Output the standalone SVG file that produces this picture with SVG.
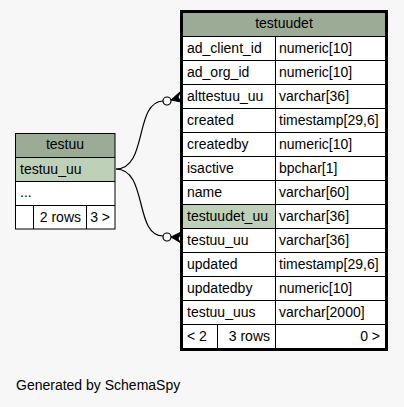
<svg xmlns="http://www.w3.org/2000/svg" width="404" height="407" viewBox="0 0 404 407">
<style>
text{font-family:"Liberation Sans",Arial,sans-serif;font-size:14px;fill:#000}
.hdr{fill:#9bab96}
.key{fill:#bed1b8}
.cell{fill:#fff}
.ln{stroke:#000;stroke-width:1;fill:none}
.c{text-anchor:middle}
.e{text-anchor:end}
.edge{stroke:#000;stroke-width:1.2;fill:none}
</style>
<rect width="404" height="407" fill="#f7f7f7"/>
<g id="connectors">
<path class="edge" d="M116,169 C148,169 134,102 163,101"/>
<circle class="edge" cx="167" cy="101" r="4" fill="#fff"/>
<polygon points="171,100 181,91 178,97 181,102" fill="#000" stroke="#000" stroke-width="1"/>
<path class="edge" d="M116,169 C148,169 134,236 163,236"/>
<circle class="edge" cx="167" cy="237" r="4" fill="#fff"/>
<polygon points="171,237 181,232 178,239 181,243" fill="#000" stroke="#000" stroke-width="1"/>
</g>
<g id="testuu">
<rect class="hdr" x="15" y="133" width="100" height="24"/>
<rect class="key" x="15" y="157" width="100" height="24"/>
<rect class="cell" x="15" y="181" width="100" height="48"/>
<rect class="ln" x="15.5" y="133.5" width="99.5" height="95.5"/>
<path class="ln" d="M15,157.5H115M15,181.5H115M15,205.5H115M33.5,205V229M86.5,205V229"/>
<text class="c" x="65" y="149">testuu</text>
<text x="20" y="174">testuu_uu</text>
<text x="20" y="197">...</text>
<text class="e" x="81" y="222">2 rows</text>
<text class="e" x="110" y="222">3 &gt;</text>
</g>
<g id="testuudet">
<rect class="hdr" x="183" y="13" width="202" height="23"/>
<rect class="cell" x="183" y="36" width="202" height="312"/>
<rect class="key" x="183" y="204" width="92" height="24"/>
<path class="ln" d="M183,36.5H385M183,60.5H385M183,84.5H385M183,108.5H385M183,132.5H385M183,156.5H385M183,180.5H385M183,204.5H385M183,228.5H385M183,252.5H385M183,276.5H385M183,300.5H385M183,324.5H385M275.5,36V348M217.5,324V348"/>
<rect x="181.5" y="11.5" width="205" height="338" fill="none" stroke="#000" stroke-width="3"/>
<text class="c" x="284" y="28">testuudet</text>
<text x="187" y="53">ad_client_id</text><text x="279" y="53">numeric[10]</text>
<text x="187" y="77">ad_org_id</text><text x="279" y="77">numeric[10]</text>
<text x="187" y="101">alttestuu_uu</text><text x="279" y="101">varchar[36]</text>
<text x="187" y="125">created</text><text x="279" y="125">timestamp[29,6]</text>
<text x="187" y="149">createdby</text><text x="279" y="149">numeric[10]</text>
<text x="187" y="173">isactive</text><text x="279" y="173">bpchar[1]</text>
<text x="187" y="197">name</text><text x="279" y="197">varchar[60]</text>
<text x="187" y="221">testuudet_uu</text><text x="279" y="221">varchar[36]</text>
<text x="187" y="245">testuu_uu</text><text x="279" y="245">varchar[36]</text>
<text x="187" y="269">updated</text><text x="279" y="269">timestamp[29,6]</text>
<text x="187" y="293">updatedby</text><text x="279" y="293">numeric[10]</text>
<text x="187" y="317">testuu_uus</text><text x="279" y="317">varchar[2000]</text>
<text x="187" y="341">&lt; 2</text>
<text class="e" x="270" y="341">3 rows</text>
<text class="e" x="380" y="341">0 &gt;</text>
</g>
<text x="16" y="390">Generated by SchemaSpy</text>
</svg>
